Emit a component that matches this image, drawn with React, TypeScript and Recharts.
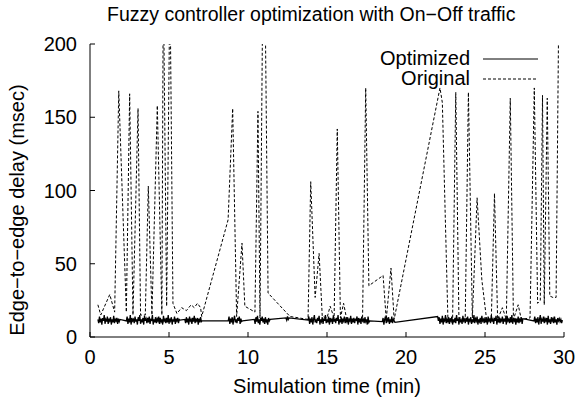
import { LineChart, Line, XAxis, YAxis, Legend } from 'recharts';

// Optimized delay: dense noisy samples, in runs that start at these times (min)
const optStarts = [0.5, 2.3, 6.0, 8.75, 10.4, 12.4, 13.8, 18.5, 22.0, 28.1];
const optStep = 0.05;
const optA = [12, 9.5, 14, 10, 12.5, 8.5, 13, 11, 15, 9, 12, 10.5, 14, 9, 12.5, 11, 13.5, 8.5, 12, 10, 14.5, 9.5, 12, 11, 13, 9, 12.5, 10.5, 12];
const optB = [
  11, 14, 9, 12.5, 10, 15, 8.5, 13, 11, 12,
  9.5, 14, 10.5, 12, 8.5, 13.5, 11, 15, 9, 12,
  10, 13, 8.5, 14.5, 11, 12.5, 9.5, 13, 10, 14,
  9, 12, 11.5, 15, 8.5, 12, 10, 13.5, 9.5, 12.5,
  11, 14, 9, 13, 10.5, 12, 8.5, 14.5, 11, 12,
  9.5, 13, 10, 15, 9, 12.5, 11, 13.5, 8.5, 12,
  10.5, 14, 9, 12.5, 11, 13, 9.5, 12, 11.5,
];
const optC = [12, 9.5, 13.5, 10, 12.5, 8.5, 14, 11, 12, 9, 13, 10.5, 14.5, 9.5, 12, 11, 13, 8.5, 12.5, 10, 13.5, 10.5, 11];
const optD = [11, 14, 9, 12.5, 10, 13.5, 8.5, 12, 14.5, 10, 12, 9.5, 13, 11, 14, 9, 12.5, 10.5, 11];
const optE = [12, 9, 13.5, 10.5, 14.5, 9.5, 12, 8.5, 13, 11, 14, 10, 12.5, 9, 13.5, 10.5, 12, 8.5, 13, 11, 12];
const optF = [13, 11.5, 14, 12, 13];
const optG = [
  11.5, 14, 9, 12.5, 10, 13.5, 8.5, 12, 15, 10,
  12, 9.5, 13, 11, 14.5, 8.5, 12, 10.5, 13.5, 9,
  12.5, 11, 15, 9.5, 12, 10, 14, 8.5, 13, 11,
  12, 9, 14.5, 10.5, 12.5, 9.5, 13, 11, 15, 8.5,
  12, 10, 13.5, 9, 12.5, 11, 14, 9.5, 12, 10.5,
  13.5, 8.5, 12, 11, 14.5, 9, 12.5, 10, 13, 9.5,
  12, 11.5, 14, 8.5, 13, 10, 12.5, 9, 14, 11,
  12, 9.5, 13.5, 10.5, 12, 8.5, 14, 10, 11,
];
const optH = [10.5, 13, 8.5, 12, 14, 9.5, 12.5, 11, 13.5, 9, 12, 10, 14, 9.5, 12, 11, 10];
const optI = [
  14, 11, 13.5, 9, 12.5, 10, 14.5, 8.5, 12, 11,
  15, 9.5, 12, 10.5, 13.5, 9, 12.5, 11, 14, 8.5,
  12, 10, 13, 9.5, 15, 11, 12.5, 8.5, 13.5, 10,
  12, 9, 14.5, 11, 12, 9.5, 13, 10.5, 14, 8.5,
  12.5, 11, 13.5, 9, 12, 10, 15, 9.5, 12.5, 11,
  14, 8.5, 12, 10.5, 13, 9, 14.5, 11, 12, 9.5,
  13.5, 10, 12.5, 8.5, 14, 11, 12, 9.5, 15, 10.5,
  12, 9, 13, 11, 14.5, 8.5, 12.5, 10, 13.5, 9.5,
  12, 11, 14, 9, 12.5, 10.5, 13, 8.5, 14.5, 11,
  12, 9.5, 13.5, 10, 15, 9, 12, 11, 13, 8.5,
  12.5, 10, 14, 9.5, 12, 11, 13.5, 9, 12.5,
];
const optJ = [
  11, 14, 9.5, 12.5, 10, 13.5, 8.5, 12, 15, 9,
  12, 10.5, 14, 9.5, 12.5, 11, 13, 8.5, 14.5, 10,
  12, 9, 13.5, 11, 12.5, 9.5, 14, 10, 12, 8.5,
  13, 11, 12.5, 10.5, 12, 9.5, 11.5,
];
const optSegments = [optA, optB, optC, optD, optE, optF, optG, optH, optI, optJ];

// Original delay: spiky series
const origT = [
  0.5, 0.68, 1.25, 1.56, 1.82, 2.3, 2.51, 2.72, 3.04, 3.2, 3.5, 3.69, 3.92, 4.26, 4.55, 4.64, 4.85, 5.06,
  5.25, 5.5, 5.8, 6.1, 6.4, 6.6, 6.8, 7.0, 7.07, 8.74, 9.03, 9.28, 9.62, 9.8, 10.44, 10.63, 10.76, 11.0,
  11.27, 12.66, 13.8, 13.97, 14.25, 14.5, 14.7, 15.0, 15.2, 15.45, 15.65, 15.85, 16.05, 16.25, 17.25,
  17.45, 17.65, 18.55, 18.75, 19.05, 19.25, 22.15, 22.3, 22.65, 22.95, 23.15, 23.35, 23.75, 23.95, 24.2,
  24.5, 24.8, 25.1, 25.4, 25.6, 25.8, 26.1, 26.35, 26.6, 26.8, 27.1, 27.3, 27.85, 28.12, 28.33, 28.5,
  28.64, 28.75, 28.94, 29.1, 29.3, 29.5, 29.75,
];
const origV = [
  22, 15, 29, 17, 168, 17, 166, 15, 156, 15, 15, 103, 15, 158, 15, 245, 21, 245,
  23, 16, 20, 18, 22, 20, 23, 20, 14, 80, 156, 14, 64, 21, 17, 154, 13, 320,
  30, 14, 12, 106, 27, 57, 14, 13, 21, 13, 142, 13, 23, 12, 12,
  170, 35, 42, 12, 47, 12, 170, 160, 13, 12, 167, 12, 13, 167, 13,
  95, 39, 12, 12, 98, 12, 20, 12, 163, 12, 22, 12, 13, 170, 23, 25,
  165, 22, 163, 28, 27, 27, 320,
];

const xTicks = [0, 5, 10, 15, 20, 25, 30];
const yTicks = [0, 50, 100, 150, 200];

const optimized = optSegments.flatMap((seg, k) =>
  seg.map((v, i) => ({ t: +(optStarts[k] + i * optStep).toFixed(3), v }))
);
const original = origT.map((t, i) => ({ t, v: origV[i] }));

const FONT = '"Liberation Sans", Arial, Helvetica, sans-serif';
const tickStyle = { fontSize: 20, fill: '#000', fontFamily: FONT };

function LegendBox(props: any) {
  const items = [...(props.payload || [])].sort((a: any, b: any) =>
    a.value === 'Optimized' ? -1 : b.value === 'Optimized' ? 1 : 0
  );
  return (
    <div style={{ fontFamily: FONT }}>
      {items.map((e: any) => (
        <div key={e.value} style={{ display: 'flex', alignItems: 'center', height: 20 }}>
          <span style={{ width: 110, textAlign: 'right', fontSize: 20, lineHeight: '20px', color: '#000' }}>
            {e.value}
          </span>
          <svg width={68} height={20}>
            <line
              x1={13}
              x2={68}
              y1={11}
              y2={11}
              stroke="#000"
              strokeWidth={1}
              strokeDasharray={e.value === 'Original' ? '3 2' : undefined}
            />
          </svg>
        </div>
      ))}
    </div>
  );
}

export default function App() {
  return (
    <div style={{ position: 'absolute', left: 0, top: 0, width: 576, height: 402, background: '#fff', fontFamily: FONT }}>
      <LineChart width={576} height={402} margin={{ top: 44, right: 12, bottom: 35, left: 0 }}>
        <XAxis
          dataKey="t"
          type="number"
          domain={[0, 30]}
          ticks={xTicks}
          height={30}
          tickSize={-5}
          tickMargin={18}
          stroke="#000"
          tick={tickStyle}
          allowDataOverflow
        />
        <XAxis
          xAxisId="top"
          orientation="top"
          dataKey="t"
          type="number"
          domain={[0, 30]}
          ticks={xTicks}
          height={0}
          tickSize={-5}
          tick={false}
          stroke="#000"
          allowDataOverflow
        />
        <YAxis
          type="number"
          domain={[0, 200]}
          ticks={yTicks}
          width={90}
          tickSize={-5}
          tickMargin={18}
          stroke="#000"
          tick={tickStyle}
          allowDataOverflow
        />
        <YAxis
          yAxisId="right"
          orientation="right"
          type="number"
          domain={[0, 200]}
          ticks={yTicks}
          width={0}
          tickSize={-5}
          tick={false}
          stroke="#000"
          allowDataOverflow
        />
        <Legend
          layout="horizontal"
          verticalAlign="middle"
          align="center"
          content={LegendBox}
          wrapperStyle={{ left: 360, top: 48, width: 190, height: 40 }}
        />
        <Line
          data={original}
          dataKey="v"
          name="Original"
          type="linear"
          stroke="#000"
          strokeWidth={1}
          strokeDasharray="3 2"
          dot={false}
          isAnimationActive={false}
        />
        <Line
          data={optimized}
          dataKey="v"
          name="Optimized"
          type="linear"
          stroke="#000"
          strokeWidth={1.3}
          dot={false}
          isAnimationActive={false}
        />
      </LineChart>
      <div style={{ position: 'absolute', left: 107, top: 4, fontSize: 19.5, lineHeight: '20px', whiteSpace: 'nowrap', color: '#000' }}>
        Fuzzy controller optimization with On−Off traffic
      </div>
      <div style={{ position: 'absolute', left: 90, top: 376, width: 474, textAlign: 'center', fontSize: 20, lineHeight: '20px', whiteSpace: 'nowrap', color: '#000' }}>
        Simulation time (min)
      </div>
      <div
        style={{
          position: 'absolute',
          left: 17,
          top: 210,
          transform: 'translate(-50%, -50%) rotate(-90deg)',
          fontSize: 20,
          lineHeight: '20px',
          whiteSpace: 'nowrap',
          color: '#000',
        }}
      >
        Edge−to−edge delay (msec)
      </div>
    </div>
  );
}
